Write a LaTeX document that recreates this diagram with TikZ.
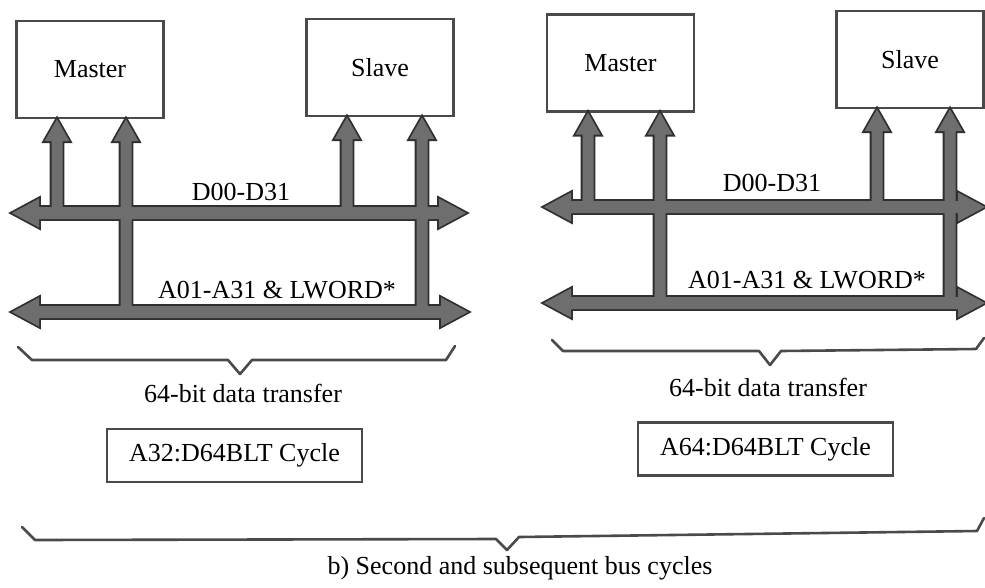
\documentclass[tikz,border=0pt]{standalone}
\usepackage{fontspec}
\setmainfont{Liberation Serif}
\usetikzlibrary{calc, positioning}
\definecolor{busgray}{HTML}{6E6E6E}
\definecolor{busdark}{HTML}{303030}
\definecolor{boxgray}{HTML}{4A4A4A}

\tikzset{
    unit/.style={draw=boxgray, line width=2.4pt, minimum width=147pt, minimum height=97pt, font=\fontsize{26}{30}\selectfont},
    lbl/.style={font=\fontsize{26}{30}\selectfont, inner sep=0pt},
    cyclebox/.style={draw=boxgray, line width=2.4pt, minimum width=255pt, minimum height=53pt, font=\fontsize{26}{30}\selectfont},
    busline/.style={draw=busdark, line width=3.6pt, line join=miter},
    buscore/.style={fill=busgray},
    bracket/.style={draw=boxgray, line width=2.6pt, line join=round, line cap=round}
}

% fat arrow from a bus tap up to the bottom of a box
\newcommand{\fatup}[3]{%
    \path[#1] let \p1=(#2), \p2=(#3.south) in
        (\x1-5.5pt,\y1) -- (\x1-5.5pt,\y2-22pt) -- (\x1-12.5pt,\y2-22pt) -- (\x1,\y2)
        -- (\x1+12.5pt,\y2-22pt) -- (\x1+5.5pt,\y2-22pt) -- (\x1+5.5pt,\y1) -- cycle;}
% fat double arrow for a bus
\newcommand{\fatbus}[3]{%
    \path[#1] let \p1=(#2), \p2=(#3) in
        (\x1,\y1) -- (\x1+27pt,\y1+14.5pt) -- (\x1+27pt,\y1+6pt) -- (\x2-27pt,\y1+6pt)
        -- (\x2-27pt,\y1+14.5pt) -- (\x2,\y1) -- (\x2-27pt,\y1-14.5pt) -- (\x2-27pt,\y1-6pt)
        -- (\x1+27pt,\y1-6pt) -- (\x1+27pt,\y1-14.5pt) -- cycle;}

\begin{document}
\begin{tikzpicture}[x=1pt, y=-1pt]
    \useasboundingbox (0,0) rectangle (985,587);

    % Boxes
    \node[unit] (master1) at (90,69.5) {Master};
    \node[unit] (slave1) at (380,67.5) {Slave};
    \node[unit] (master2) at (620.5,63) {Master};
    \node[unit] (slave2) at (910,59.5) {Slave};

    % Bus ends and taps
    \coordinate (d1l) at (12,213);  \coordinate (d1r) at (466,213);
    \coordinate (a1l) at (12,312);  \coordinate (a1r) at (468,312);
    \coordinate (d2l) at (544,207); \coordinate (d2r) at (985,207);
    \coordinate (a2l) at (544,303); \coordinate (a2r) at (985,303);
    \coordinate (m1d) at (57,213);  \coordinate (m1a) at (126,312);
    \coordinate (s1d) at (347,213); \coordinate (s1a) at (422,312);
    \coordinate (m2d) at (588,207); \coordinate (m2a) at (660,303);
    \coordinate (s2d) at (877,207); \coordinate (s2a) at (950,303);

    % Bus outlines
    \fatbus{busline}{d1l}{d1r} \fatbus{busline}{a1l}{a1r}
    \fatbus{busline}{d2l}{d2r} \fatbus{busline}{a2l}{a2r}
    \fatup{busline}{m1d}{master1} \fatup{busline}{m1a}{master1}
    \fatup{busline}{s1d}{slave1}  \fatup{busline}{s1a}{slave1}
    \fatup{busline}{m2d}{master2} \fatup{busline}{m2a}{master2}
    \fatup{busline}{s2d}{slave2}  \fatup{busline}{s2a}{slave2}
    % Bus fills
    \fatbus{buscore}{d1l}{d1r} \fatbus{buscore}{a1l}{a1r}
    \fatbus{buscore}{d2l}{d2r} \fatbus{buscore}{a2l}{a2r}
    \fatup{buscore}{m1d}{master1} \fatup{buscore}{m1a}{master1}
    \fatup{buscore}{s1d}{slave1}  \fatup{buscore}{s1a}{slave1}
    \fatup{buscore}{m2d}{master2} \fatup{buscore}{m2a}{master2}
    \fatup{buscore}{s2d}{slave2}  \fatup{buscore}{s2a}{slave2}

    % Bus labels
    \node[lbl] (data1) at (241,192) {D00-D31};
    \node[lbl] (addr1) at (277,290) {A01-A31 \& LWORD*};
    \node[lbl] (data2) at (772,183) {D00-D31};
    \node[lbl] (addr2) at (807,280) {A01-A31 \& LWORD*};

    % Braces
    \draw[bracket] (18,347) -- (32,360) -- (228,360) -- (240,374) -- (252,360) -- (446,360) -- (455,346);
    \draw[bracket] (552,340) -- (563,351) -- (759,351) -- (770,365) -- (781,351) -- (976,349) -- (984,338);
    \draw[bracket] (22,527) -- (35,540) -- (496,539) -- (507,550) -- (519,537) -- (977,531) -- (984,518);

    % Captions
    \node[lbl] (xfer1) at (243,393) {64-bit data transfer};
    \node[lbl] (xfer2) at (768,387) {64-bit data transfer};
    \node[cyclebox] (cyc1) at (234.5,455.5) {A32:D64BLT Cycle};
    \node[cyclebox] (cyc2) at (765.5,449) {A64:D64BLT Cycle};
    \node[lbl] (caption) at (520,568) {b) Second and subsequent bus cycles};
\end{tikzpicture}
\end{document}
